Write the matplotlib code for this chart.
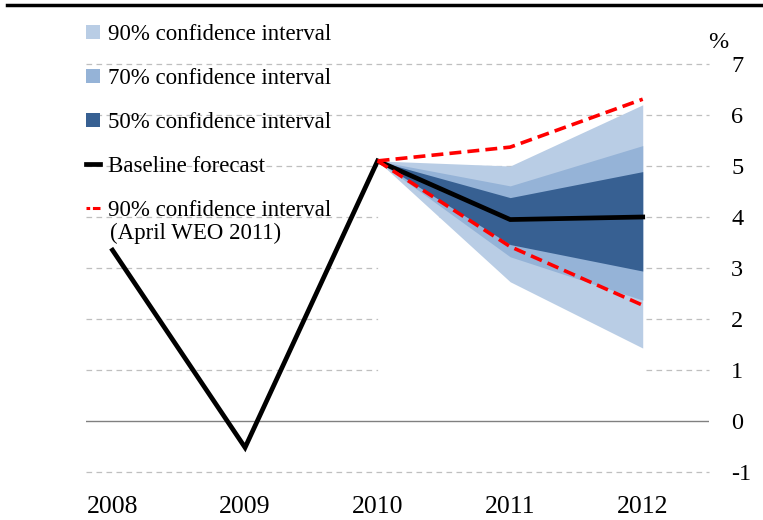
import matplotlib
matplotlib.use("Agg")
import matplotlib.pyplot as plt
from matplotlib.patches import Patch
from matplotlib.lines import Line2D

plt.rcParams['font.family'] = ['Liberation Serif', 'DejaVu Serif']

# data
years = [2008, 2009, 2010, 2011, 2012]
baseline = [3.35, -0.52, 5.1, 3.95, 4.0]

fan_years = [2010, 2011, 2012]
ci90_lo = [5.1, 2.73, 1.43]
ci90_hi = [5.1, 5.0, 6.2]
ci70_lo = [5.1, 3.22, 2.37]
ci70_hi = [5.1, 4.61, 5.4]
ci50_lo = [5.1, 3.46, 2.94]
ci50_hi = [5.1, 4.38, 4.89]
weo_lo = [5.1, 3.42, 2.27]
weo_hi = [5.1, 5.37, 6.31]

yticks = [-1, 0, 1, 2, 3, 4, 5, 6, 7]

c90 = '#B9CDE5'
c70 = '#95B3D7'
c50 = '#376092'

W, H = 763, 520
fig = plt.figure(figsize=(W / 100, H / 100), dpi=100)
ax = fig.add_axes([86 / W, (H - 472) / H, (709 - 86) / W, (472 - 64) / H])

ax.set_xlim(2007.8, 2012.5)
ax.set_ylim(-1, 7)

# grid
for v in yticks:
    if v == 0:
        ax.axhline(0, color='#808080', lw=1.0, zorder=2.5)
    else:
        ax.axhline(v, color='#BFBFBF', lw=0.9, ls=(0, (4.5, 3.5)), zorder=0.5,
                   clip_on=False)

# fan chart (white base hides the grid, like the stacked-area original)
ax.fill_between(fan_years, 0, ci90_lo, color='white', lw=0, zorder=1)
ax.fill_between(fan_years, ci90_lo, ci90_hi, color=c90, lw=0, zorder=1.2)
ax.fill_between(fan_years, ci70_lo, ci70_hi, color=c70, lw=0, zorder=1.3)
ax.fill_between(fan_years, ci50_lo, ci50_hi, color=c50, lw=0, zorder=1.4)

ax.plot(years, baseline, color='black', lw=3.4, zorder=3, solid_joinstyle='miter')
ax.plot(fan_years, weo_hi, color='red', lw=2.6, dashes=(3.3, 1.7), zorder=4)
ax.plot(fan_years, weo_lo, color='red', lw=2.6, dashes=(3.3, 1.7), zorder=4)

for s in ax.spines.values():
    s.set_visible(False)

ax.yaxis.tick_right()
ax.set_yticks(yticks)
ax.set_yticklabels([str(v) for v in yticks])
ax.set_xticks(years)
ax.set_xticklabels([str(y) for y in years])
ax.tick_params(axis='y', length=0, pad=16, labelsize=17.5)
ax.tick_params(axis='x', length=0, pad=17, labelsize=18.5)

fig.text(718 / W, 1 - 42 / H, '%', ha='center', va='center', fontsize=17.5)

# top rule
fig.add_artist(Line2D([7 / W, 1], [1 - 5 / H, 1 - 5 / H], color='black', lw=2.5,
                      transform=fig.transFigure))

handles = [
    Patch(facecolor=c90, edgecolor='none'),
    Patch(facecolor=c70, edgecolor='none'),
    Patch(facecolor=c50, edgecolor='none'),
    Line2D([], [], color='black', lw=3.4),
    Line2D([], [], color='red', lw=2.2, dashes=(1.2, 0.9, 3, 0.9)),
]
labels = [
    '90% confidence interval',
    '70% confidence interval',
    '50% confidence interval',
    'Baseline forecast',
    '90% confidence interval',
]
leg = ax.legend(handles, labels, loc='upper left',
                bbox_to_anchor=(86 / W, 1 - 24 / H), bbox_transform=fig.transFigure,
                frameon=False, borderpad=0, borderaxespad=0,
                handlelength=0.6, handleheight=0.55, handletextpad=0.35,
                labelspacing=1.0, prop={'size': 16.5})
leg.set_zorder(5)
fig.text(110 / W, 1 - 233 / H, '(April WEO 2011)', ha='left', va='center',
         fontsize=16.5, zorder=5)

fig.savefig('out.png', dpi=100)
